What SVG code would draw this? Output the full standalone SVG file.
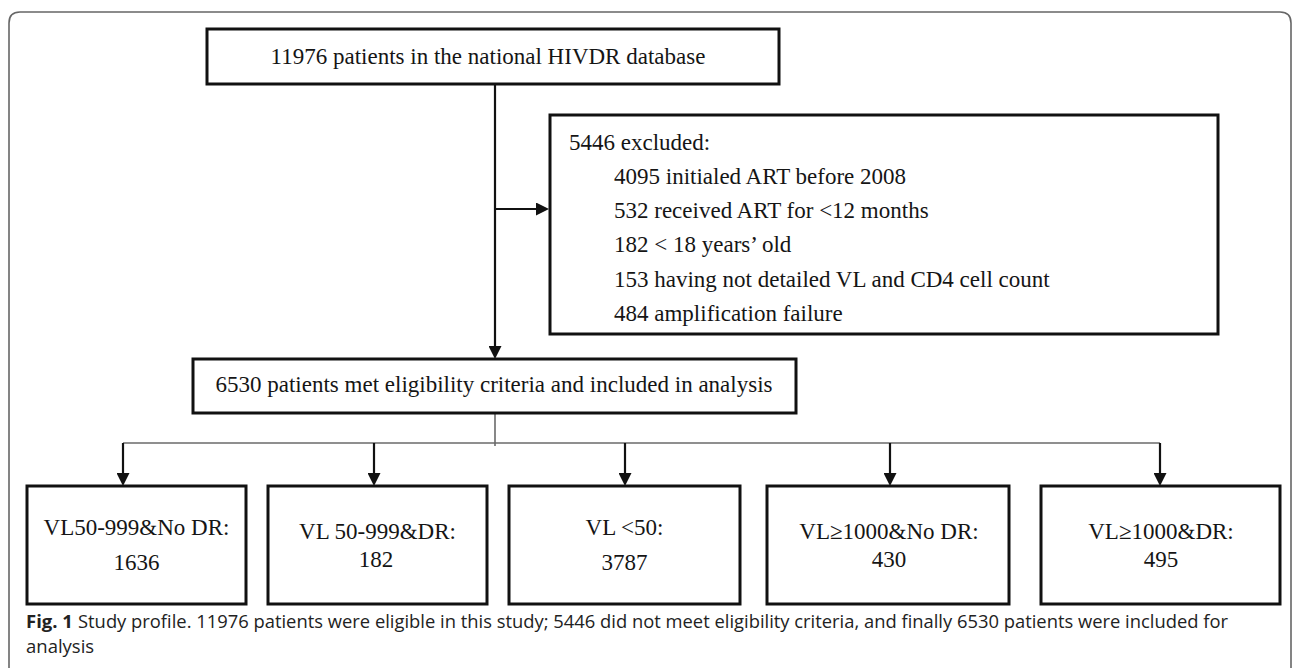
<svg xmlns="http://www.w3.org/2000/svg" width="1292" height="668" viewBox="0 0 1292 668">
  <style>
    .box { fill: #fff; stroke: #111; stroke-width: 3; }
    .t { font-family: "Liberation Serif", "Times New Roman", serif; font-size: 23px; fill: #151515; }
    .c { text-anchor: middle; }
    .arrow { stroke: #111; stroke-width: 2.2; fill: none; marker-end: url(#ah); }
    .thin { stroke: #6a6a6a; stroke-width: 1.6; fill: none; }
    .cap { font-family: "Open Sans", "Noto Sans", sans-serif; font-size: 18.5px; fill: #222; }
  </style>
  <defs>
    <marker id="ah" viewBox="0 0 13 13" refX="9" refY="6.5" markerWidth="13" markerHeight="13" markerUnits="userSpaceOnUse" orient="auto">
      <path d="M0,0 L13,6.5 L0,13 Z" fill="#111"/>
    </marker>
  </defs>
  <rect width="1292" height="668" fill="#fff"/>
  <path d="M9,668 V23 Q9,12 20,12 H1280 Q1291,12 1291,23 V668" fill="none" stroke="#666" stroke-width="1.6"/>

  <g id="connectors">
    <line class="arrow" x1="495" y1="84" x2="495" y2="355"/>
    <line class="arrow" x1="495" y1="209" x2="545" y2="209"/>
    <line class="thin" x1="495" y1="413" x2="495" y2="446"/>
    <line class="thin" x1="123" y1="443" x2="1160" y2="443"/>
    <line class="arrow" x1="123" y1="443" x2="123" y2="482"/>
    <line class="arrow" x1="374" y1="443" x2="374" y2="482"/>
    <line class="arrow" x1="625" y1="443" x2="625" y2="482"/>
    <line class="arrow" x1="890" y1="443" x2="890" y2="482"/>
    <line class="arrow" x1="1160" y1="443" x2="1160" y2="482"/>
  </g>

  <g id="node-database">
    <rect class="box" x="207" y="29" width="572" height="55"/>
    <text class="t c" x="488" y="64">11976 patients in the national HIVDR database</text>
  </g>

  <g id="node-excluded">
    <rect class="box" x="550" y="115" width="668" height="219"/>
    <text class="t" x="569" y="150">5446 excluded:</text>
    <text class="t" x="614" y="184">4095 initialed ART before 2008</text>
    <text class="t" x="614" y="218">532 received ART for &lt;12 months</text>
    <text class="t" x="614" y="252">182 &lt; 18 years’ old</text>
    <text class="t" x="614" y="287">153 having not detailed VL and CD4 cell count</text>
    <text class="t" x="614" y="321">484 amplification failure</text>
  </g>

  <g id="node-included">
    <rect class="box" x="193" y="359" width="603" height="54"/>
    <text class="t c" x="494" y="392">6530 patients met eligibility criteria and included in analysis</text>
  </g>

  <g id="node-vl50-999-nodr">
    <rect class="box" x="27" y="486" width="219" height="118"/>
    <text class="t c" x="136.5" y="535">VL50-999&amp;No DR:</text>
    <text class="t c" x="136.5" y="570">1636</text>
  </g>

  <g id="node-vl50-999-dr">
    <rect class="box" x="268" y="486" width="219" height="118"/>
    <text class="t c" x="377.5" y="539">VL 50-999&amp;DR:</text>
    <text class="t c" x="376" y="567">182</text>
  </g>

  <g id="node-vl-lt50">
    <rect class="box" x="509" y="486" width="231" height="118"/>
    <text class="t c" x="624.5" y="535">VL &lt;50:</text>
    <text class="t c" x="624.5" y="570">3787</text>
  </g>

  <g id="node-vl1000-nodr">
    <rect class="box" x="767" y="486" width="242" height="118"/>
    <text class="t c" x="889" y="539">VL≥1000&amp;No DR:</text>
    <text class="t c" x="889" y="567">430</text>
  </g>

  <g id="node-vl1000-dr">
    <rect class="box" x="1041" y="486" width="239" height="118"/>
    <text class="t c" x="1161" y="539">VL≥1000&amp;DR:</text>
    <text class="t c" x="1161" y="567">495</text>
  </g>

  <g id="caption">
    <text class="cap" x="26" y="628" font-weight="bold">Fig. 1</text>
    <text class="cap" x="78" y="628" textLength="1150" lengthAdjust="spacingAndGlyphs">Study profile. 11976 patients were eligible in this study; 5446 did not meet eligibility criteria, and finally 6530 patients were included for</text>
    <text class="cap" x="26" y="653">analysis</text>
  </g>
</svg>
